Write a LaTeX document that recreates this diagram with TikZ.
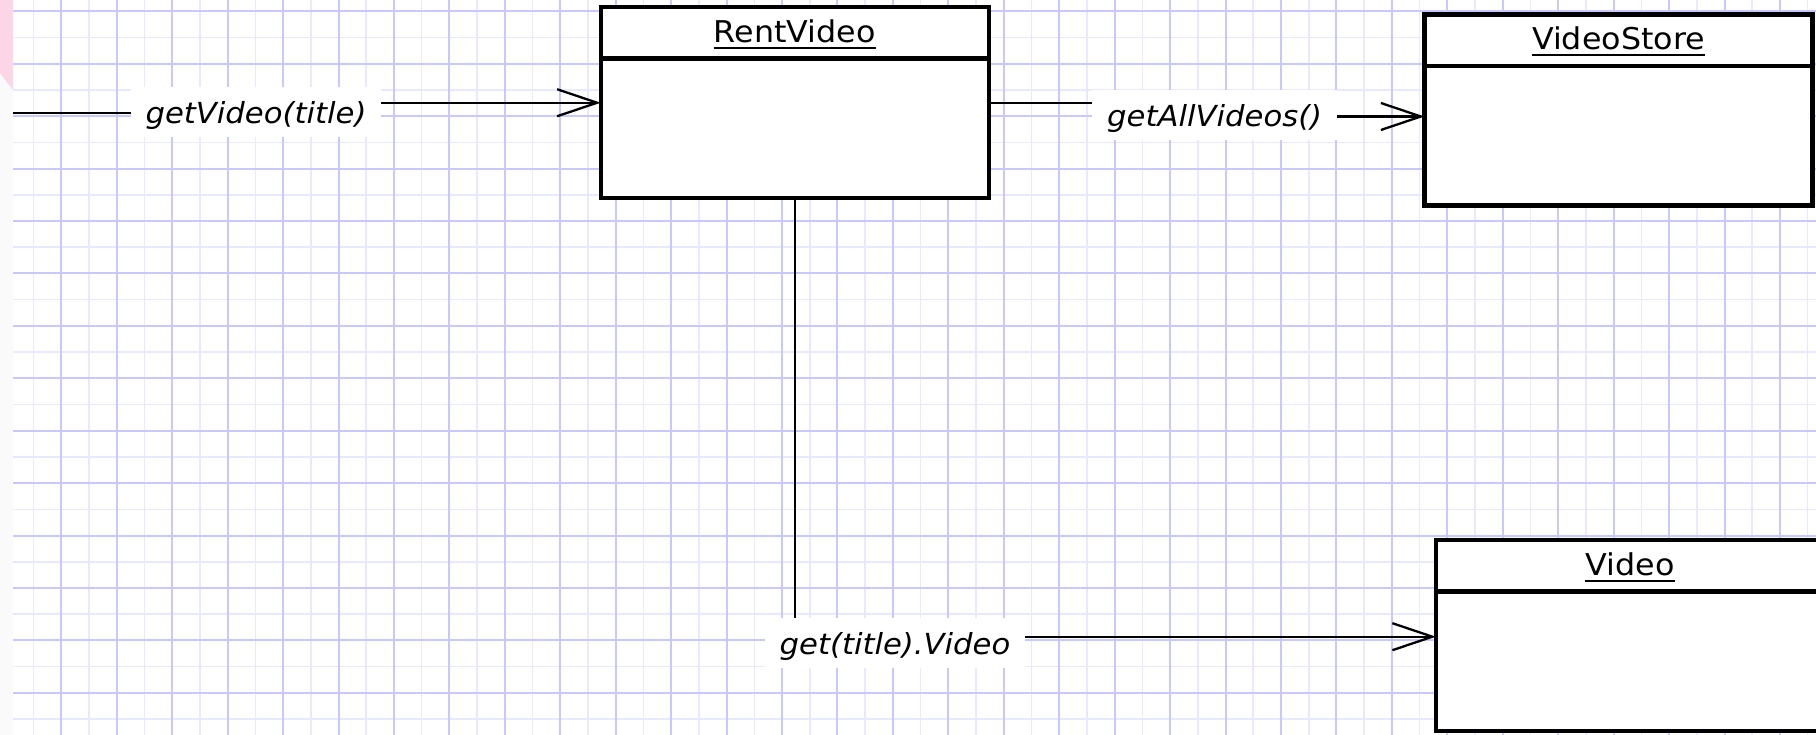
\documentclass[tikz,border=0pt]{standalone}
\usepackage{fontspec}
\setmainfont{DejaVu Sans}[FakeStretch=1.058]
\usetikzlibrary{arrows.meta,calc}

\definecolor{gridmajor}{RGB}{200,200,255}
\definecolor{gridminor}{RGB}{232,232,255}
\definecolor{panel}{RGB}{250,250,250}
\definecolor{corner}{RGB}{251,214,230}

\begin{document}
\begin{tikzpicture}[x=1pt,y=-1pt,
  classbox/.style={draw=black, line width=4.5pt, fill=white,
    minimum width=388pt, minimum height=191pt, inner sep=0pt, outer sep=0pt},
  classname/.style={font=\fontsize{30}{36}\selectfont, inner sep=0pt, anchor=base},
  namerule/.style={line width=2.2pt},
  compartment/.style={line width=4.5pt},
  conn/.style={draw=black, line width=2.3pt},
  callarrow/.style={conn, -{Straight Barb[length=40pt,width=27pt]}},
  calllabel/.style={fill=white, font=\fontsize{29}{35}\selectfont\itshape,
    inner xsep=15pt, inner ysep=0pt, minimum height=50pt,
    text height=23pt, text depth=0pt},
  minorline/.style={gridminor, line width=1.6pt},
  majorline/.style={gridmajor, line width=2pt},
]
\useasboundingbox (0,0) rectangle (1816,735);
\clip (0,0) rectangle (1816,735);

% drawing canvas with its two-tone grid
\fill[white] (13,0) rectangle (1816,735);
\foreach \k in {0,...,32} {
  \draw[minorline] ({33.6+55.44*\k},0) -- ++(0,735);
}
\foreach \k in {0,...,13} {
  \draw[minorline] (13,{37.7+52.4*\k}) -- (1816,{37.7+52.4*\k});
}
\foreach \k in {0,...,32} {
  \draw[majorline] ({61.3+55.44*\k},0) -- ++(0,735);
}
\foreach \k in {0,...,13} {
  \draw[majorline] (13,{11.5+52.4*\k}) -- (1816,{11.5+52.4*\k});
}

% strip at the left edge of the canvas
\fill[panel] (0,0) rectangle (13,735);
\fill[corner] (0,0) -- (13,0) -- (13,90) -- (0,73) -- cycle;

% objects
\node[classbox] (rent)  at (794.75,102.75) {};
\node[classbox] (store) at (1618.5,109.8) {};
\node[classbox] (video) at (1630,635.4) {};

\foreach \obj/\txt in {rent/RentVideo, store/VideoStore, video/Video} {
  \draw[compartment] ($(\obj.north west)+(0,51.5)$) -- ($(\obj.north east)+(0,51.5)$);
  \node[classname] (\obj name) at ($(\obj.north)+(0,35.7)$) {\txt};
  \draw[namerule] ($(\obj name.base west)+(0,5)$) -- ($(\obj name.base east)+(0,5)$);
}

% messages
\coordinate (src) at (13,113.3);
\coordinate (bendA) at (256,113.3);
\coordinate (bendB) at (1214.7,102.75);
\coordinate (storeport) at ($(store.west)+(0,6.7)$);
\coordinate (videoport) at ($(video.west)+(0,1.3)$);

\draw[callarrow] (src) -- (bendA) |- (rent.west);
\draw[callarrow] (rent.east) -- (bendB) |- (storeport);
\draw[callarrow] (rent.south) |- (videoport);

\node[calllabel] (msgA) at (256,112.5) {getVideo(title)};
\node[calllabel] (msgB) at (1214.7,115.5) {getAllVideos()};
\node[calllabel] (msgC) at (895,642.5) {get(title).Video};
\end{tikzpicture}
\end{document}
